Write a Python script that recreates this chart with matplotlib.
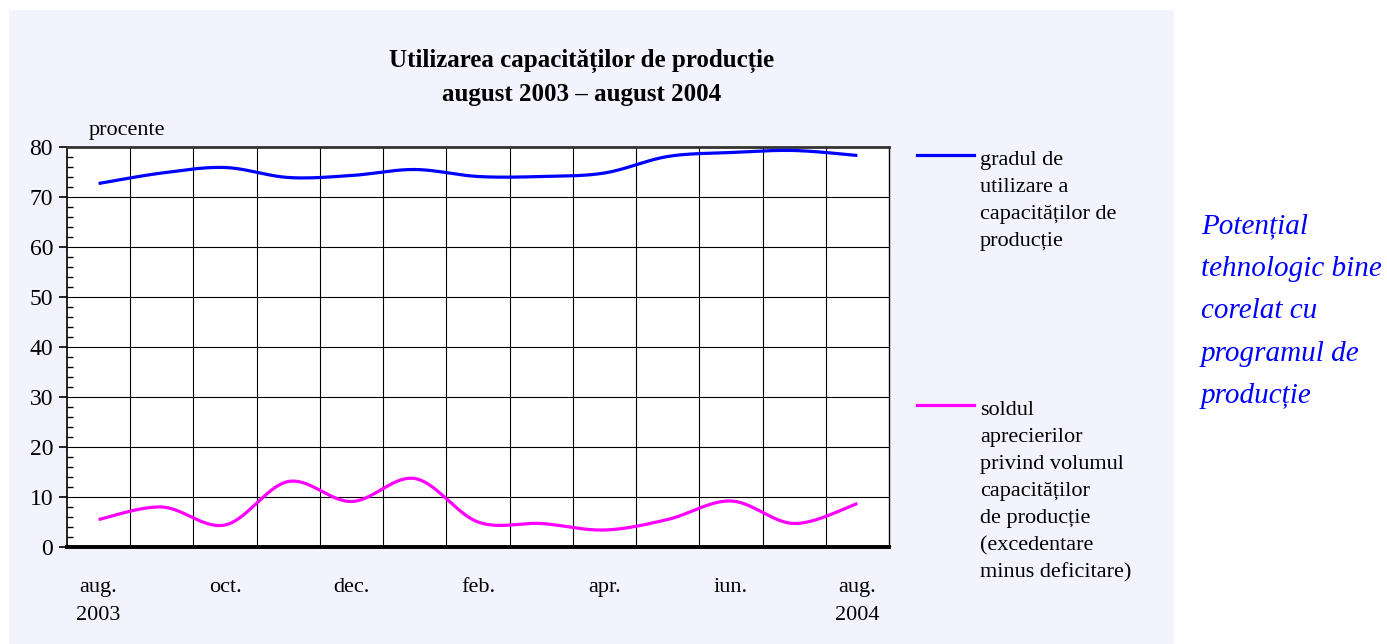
import numpy as np
import matplotlib
matplotlib.use('Agg')
import matplotlib.pyplot as plt
from matplotlib.lines import Line2D
from matplotlib.patches import Rectangle

plt.rcParams['font.family'] = ['Liberation Serif', 'DejaVu Serif']

W, H = 1387, 644

months = ['aug.', 'sep.', 'oct.', 'nov.', 'dec.', 'ian.', 'feb.', 'mar.',
          'apr.', 'mai', 'iun.', 'iul.', 'aug.']
tick_labels = ['aug.\n2003', 'oct.', 'dec.', 'feb.', 'apr.', 'iun.', 'aug.\n2004']
utilizare = [72.7, 74.8, 75.9, 73.9, 74.3, 75.5, 74.1, 74.1, 74.8, 78.1, 78.9, 79.3, 78.3]
sold = [5.5, 8.0, 4.4, 13.1, 9.1, 13.7, 5.0, 4.7, 3.4, 5.5, 9.2, 4.7, 8.7]

label_util = 'gradul de\nutilizare a\ncapacităților de\nproducție'
label_sold = ('soldul\naprecierilor\nprivind volumul\ncapacităților\nde producție\n'
              '(excedentare\nminus deficitare)')
side_note = 'Potențial\ntehnologic bine\ncorelat cu\nprogramul de\nproducție'


def smooth(y, n=20):
    # Catmull-Rom curve through the points, like the "smoothed line" option
    y = np.asarray(y, dtype=float)
    x = np.arange(len(y), dtype=float)
    px = np.concatenate([[x[0]], x, [x[-1]]])
    py = np.concatenate([[y[0]], y, [y[-1]]])
    xs, ys = [], []
    t = np.linspace(0, 1, n, endpoint=False)
    for i in range(1, len(px) - 2):
        for p, out in ((px, xs), (py, ys)):
            p0, p1, p2, p3 = p[i - 1], p[i], p[i + 1], p[i + 2]
            out.extend(0.5 * ((2 * p1) + (-p0 + p2) * t
                              + (2 * p0 - 5 * p1 + 4 * p2 - p3) * t ** 2
                              + (-p0 + 3 * p1 - 3 * p2 + p3) * t ** 3))
    xs.append(x[-1])
    ys.append(y[-1])
    return np.array(xs), np.array(ys)


fig = plt.figure(figsize=(W / 100, H / 100), dpi=100, facecolor='white')
fig.patches.append(Rectangle((9 / W, 0), (1174 - 9) / W, (H - 10) / H,
                             transform=fig.transFigure, facecolor='#f3f3fd',
                             edgecolor='none', zorder=-5))

ax = fig.add_axes([67 / W, (H - 547) / H, (889 - 67) / W, (547 - 147) / H])
ax.set_facecolor('white')

x = np.arange(len(months))
ax.plot(*smooth(utilizare), color='#0000ff', lw=2.3, solid_capstyle='butt', zorder=3)
ax.plot(*smooth(sold), color='#ff00ff', lw=2.3, solid_capstyle='butt', zorder=3)

ax.set_xlim(-0.5, len(months) - 0.5)
ax.set_ylim(0, 80)

for xb in np.arange(0.5, len(months) - 1, 1.0):
    ax.axvline(xb, color='black', lw=0.8, zorder=1)
for yv in range(10, 80, 10):
    ax.axhline(yv, color='black', lw=0.8, zorder=1)

ax.set_yticks(range(0, 81, 10))
ax.set_yticks(range(0, 81, 2), minor=True)
ax.tick_params(axis='y', which='major', direction='out', length=6, width=1.2,
               labelsize=17, pad=4)
ax.tick_params(axis='y', which='minor', direction='in', length=4, width=1)

ax.set_xticks(x[::2])
ax.set_xticklabels(tick_labels, linespacing=1.7)
ax.tick_params(axis='x', length=0, labelsize=16, pad=22)

ax.spines['bottom'].set_linewidth(2.8)
ax.spines['top'].set_linewidth(2.0)
ax.spines['top'].set_color('#333333')
ax.spines['left'].set_linewidth(1.2)
ax.spines['right'].set_linewidth(1.0)

fig.text(582 / W, 1 - 61 / H, 'Utilizarea capacităților de producție',
         ha='center', va='center', fontsize=18, fontweight='bold')
fig.text(582 / W, 1 - 94 / H, 'august 2003 – august 2004',
         ha='center', va='center', fontsize=18, fontweight='bold')
fig.text(89 / W, 1 - 130 / H, 'procente', ha='left', va='center', fontsize=16)

# legend on the right
fig.lines.append(Line2D([917 / W, 974 / W], [1 - 155 / H] * 2, transform=fig.transFigure,
                        color='#0000ff', lw=2.3))
fig.lines.append(Line2D([917 / W, 974 / W], [1 - 405 / H] * 2, transform=fig.transFigure,
                        color='#ff00ff', lw=2.3))
fig.text(980 / W, 1 - 151 / H, label_util, ha='left', va='top', fontsize=16,
         linespacing=1.57)
fig.text(980 / W, 1 - 401 / H, label_sold, ha='left', va='top', fontsize=16,
         linespacing=1.57)

fig.text(1201 / W, 1 - 213 / H, side_note, ha='left', va='top', fontsize=21,
         style='italic', color='#0000ff', linespacing=1.83)

fig.savefig('out.png', dpi=100)
